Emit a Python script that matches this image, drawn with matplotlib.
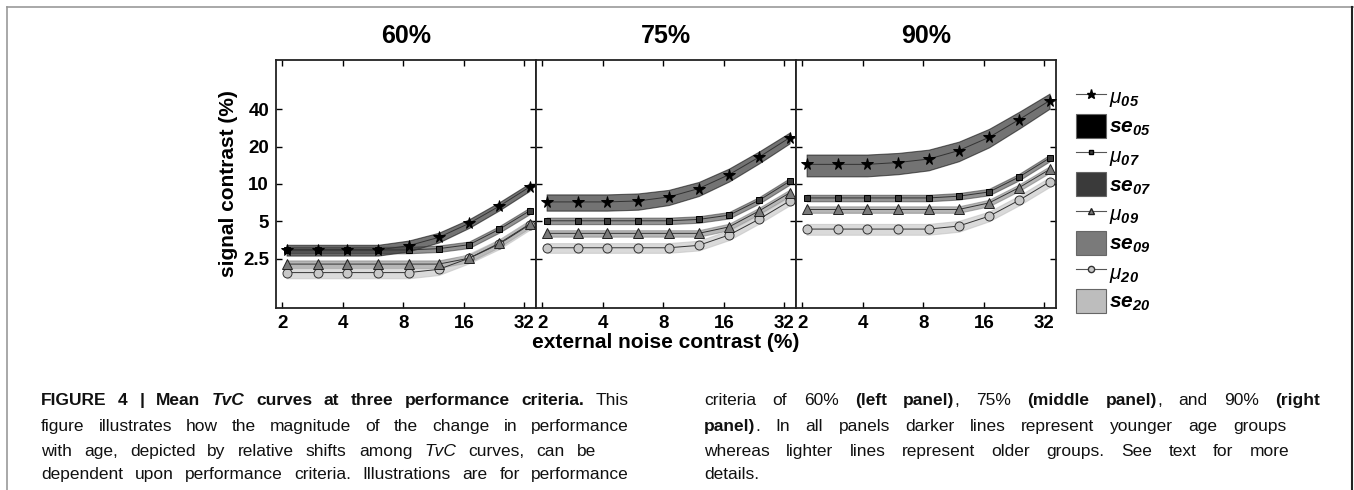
import numpy as np
import matplotlib
matplotlib.use("Agg")
import matplotlib.pyplot as plt
from matplotlib.lines import Line2D
from matplotlib.patches import Patch
from matplotlib import font_manager

W, H = 1354, 490

plt.rcParams["font.family"] = ["Liberation Sans", "DejaVu Sans"]
plt.rcParams["mathtext.fontset"] = "custom"
plt.rcParams["mathtext.rm"] = "Liberation Sans"
plt.rcParams["mathtext.it"] = "Liberation Sans:italic"
plt.rcParams["mathtext.bf"] = "Liberation Sans:bold:italic"

# external noise contrast (%)
noise = [2.1, 3.0, 4.2, 6.0, 8.5, 12.0, 17.0, 24.0, 34.0]
criteria = ["60%", "75%", "90%"]
groups = ["05", "07", "09", "20"]
x_ticks = [2, 4, 8, 16, 32]
y_ticks = [2.5, 5, 10, 20, 40]
y_ticklabels = ["2.5", "5", "10", "20", "40"]

# mean thresholds, 60% criterion
mu05_60 = [2.94, 2.94, 2.94, 2.94, 3.18, 3.71, 4.81, 6.62, 9.46]
mu07_60 = [2.94, 2.94, 2.94, 2.94, 2.94, 3.01, 3.24, 4.31, 6.07]
mu09_60 = [2.26, 2.26, 2.26, 2.26, 2.26, 2.26, 2.52, 3.33, 4.75]
mu20_60 = [1.93, 1.93, 1.93, 1.93, 1.93, 2.05, 2.52, 3.28, 4.69]
# 75% criterion
mu05_75 = [7.17, 7.17, 7.17, 7.30, 7.86, 9.19, 11.9, 16.5, 23.6]
mu07_75 = [5.05, 5.05, 5.05, 5.05, 5.05, 5.18, 5.61, 7.40, 10.5]
mu09_75 = [4.00, 4.00, 4.00, 4.00, 4.00, 4.00, 4.51, 6.07, 8.47]
mu20_75 = [3.06, 3.06, 3.06, 3.06, 3.06, 3.20, 3.88, 5.21, 7.30]
# 90% criterion
mu05_90 = [14.4, 14.4, 14.4, 14.9, 15.9, 18.6, 23.8, 33.1, 47.0]
mu07_90 = [7.72, 7.72, 7.72, 7.72, 7.72, 7.97, 8.63, 11.4, 16.2]
mu09_90 = [6.23, 6.23, 6.23, 6.23, 6.23, 6.23, 7.04, 9.36, 13.1]
mu20_90 = [4.33, 4.33, 4.33, 4.33, 4.33, 4.58, 5.50, 7.40, 10.4]

# standard error bands, as a fraction of the mean
se05_60 = [0.10, 0.10, 0.10, 0.10, 0.10, 0.09, 0.08, 0.075, 0.07]
se07_60 = [0.06, 0.06, 0.06, 0.06, 0.06, 0.06, 0.06, 0.06, 0.06]
se09_60 = [0.07, 0.07, 0.07, 0.07, 0.07, 0.07, 0.07, 0.07, 0.07]
se20_60 = [0.10, 0.10, 0.10, 0.10, 0.10, 0.10, 0.09, 0.09, 0.09]
se05_75 = [0.15, 0.15, 0.15, 0.15, 0.14, 0.13, 0.12, 0.11, 0.10]
se07_75 = [0.06, 0.06, 0.06, 0.06, 0.06, 0.06, 0.06, 0.06, 0.06]
se09_75 = [0.06, 0.06, 0.06, 0.06, 0.06, 0.06, 0.06, 0.06, 0.06]
se20_75 = [0.09, 0.09, 0.09, 0.09, 0.09, 0.09, 0.09, 0.08, 0.08]
se05_90 = [0.20, 0.20, 0.20, 0.195, 0.19, 0.18, 0.17, 0.155, 0.14]
se07_90 = [0.06, 0.06, 0.06, 0.06, 0.06, 0.06, 0.06, 0.06, 0.06]
se09_90 = [0.06, 0.06, 0.06, 0.06, 0.06, 0.06, 0.06, 0.06, 0.06]
se20_90 = [0.10, 0.10, 0.10, 0.10, 0.10, 0.10, 0.09, 0.09, 0.09]

means = [[mu05_60, mu07_60, mu09_60, mu20_60],
         [mu05_75, mu07_75, mu09_75, mu20_75],
         [mu05_90, mu07_90, mu09_90, mu20_90]]
ses = [[se05_60, se07_60, se09_60, se20_60],
       [se05_75, se07_75, se09_75, se20_75],
       [se05_90, se07_90, se09_90, se20_90]]

band_colors = ["#000000", "#3a3a3a", "#7a7a7a", "#bdbdbd"]
marker_style = [
    dict(marker="*", ms=8.5, mfc="black", mec="black"),
    dict(marker="s", ms=5, mfc="#3a3a3a", mec="black"),
    dict(marker="^", ms=6.5, mfc="#7a7a7a", mec="#222222"),
    dict(marker="o", ms=6.5, mfc="#c8c8c8", mec="#333333"),
]

# condensed face for the caption if there is one
installed = {f.name for f in font_manager.fontManager.ttflist}
caption_family = ["Liberation Sans Narrow"] if "Liberation Sans Narrow" in installed \
    else ["DejaVu Sans Condensed"] if "DejaVu Sans Condensed" in installed \
    else ["Liberation Sans"]
caption_size = 14 if caption_family[0] != "Liberation Sans" else 12.5

fig = plt.figure(figsize=(W / 100, H / 100), dpi=100)


def px_box(x0, y0, x1, y1):
    return [x0 / W, 1 - y1 / H, (x1 - x0) / W, (y1 - y0) / H]


panel_left = [276, 536, 796]
x = np.array(noise)
axes = []
for p, crit in enumerate(criteria):
    ax = fig.add_axes(px_box(panel_left[p], 60, panel_left[p] + 260, 308))
    axes.append(ax)
    for g in range(4):
        mu = np.array(means[p][g])
        se = np.array(ses[p][g])
        ax.fill_between(x, mu * (1 - se), mu * (1 + se), facecolor=band_colors[g],
                        edgecolor=band_colors[g], alpha=0.55, lw=0.8, zorder=1 + g)
    for g in reversed(range(4)):
        ax.plot(x, means[p][g], color="#333333", lw=0.7, mew=0.7,
                zorder=10 - g, **marker_style[g])
    ax.set_xscale("log", base=2)
    ax.set_yscale("log")
    ax.set_xlim(1.86, 36.6)
    ax.set_ylim(1, 100)
    ax.set_xticks(x_ticks)
    ax.set_xticklabels([str(t) for t in x_ticks], fontsize=13.5, fontweight="bold")
    ax.set_yticks(y_ticks)
    ax.minorticks_off()
    if p == 0:
        ax.set_yticklabels(y_ticklabels, fontsize=13.5, fontweight="bold")
        ax.set_ylabel("signal contrast (%)", fontsize=15, fontweight="bold", labelpad=4)
    else:
        ax.set_yticklabels([])
    ax.tick_params(direction="in", top=True, right=True, length=4, width=1, pad=5)
    for s in ax.spines.values():
        s.set_linewidth(1.3)
        s.set_color("#222222")
    ax.set_title(crit, fontsize=18, fontweight="bold", pad=12)

axes[1].set_xlabel("external noise contrast (%)", fontsize=15, fontweight="bold", labelpad=1)

# legend
handles, labels = [], []
for g in range(4):
    ms = marker_style[g]
    handles.append(Line2D([], [], color="#555555", lw=0.8, marker=ms["marker"],
                          ms=ms["ms"] - 2, mfc=ms["mfc"], mec=ms["mec"]))
    labels.append(r"$\mu_{\mathbf{%s}}$" % groups[g])
    handles.append(Patch(facecolor=band_colors[g], edgecolor="#666666", lw=0.8))
    labels.append(r"$\mathbf{se}_{\mathbf{%s}}$" % groups[g])
fig.legend(handles, labels, loc="upper left", bbox_to_anchor=(1066 / W, 1 - 74 / H),
           frameon=False, fontsize=15, handlelength=1.4, handleheight=1.4,
           handletextpad=0.15, labelspacing=0.22, borderpad=0)

# page frame
fig.add_artist(Line2D([7 / W, 7 / W], [1 - 7 / H, 0], transform=fig.transFigure,
                      color="#999999", lw=1.2))
fig.add_artist(Line2D([7 / W, 1], [1 - 7 / H, 1 - 7 / H], transform=fig.transFigure,
                      color="#999999", lw=1.2))
fig.add_artist(Line2D([1352 / W, 1352 / W], [1 - 7 / H, 0], transform=fig.transFigure,
                      color="#222222", lw=1.5))

# caption, justified text; * toggles bold, _ toggles italic
left_lines = [
    "*FIGURE 4 | Mean* *_TvC_* *curves at three performance criteria.* This",
    "figure illustrates how the magnitude of the change in performance",
    "with age, depicted by relative shifts among _TvC_ curves, can be",
    "dependent upon performance criteria. Illustrations are for performance",
]
left_ends = [629, 629, 596, 629]
right_lines = [
    "criteria of 60% *(left panel)*, 75% *(middle panel)*, and 90% *(right",
    "panel)*. In all panels darker lines represent younger age groups",
    "whereas lighter lines represent older groups. See text for more",
    "details.",
]
right_ends = [1320, 1286, 1289, None]
line_y = [400, 426, 451, 474]


def parse_words(line, bold=False, italic=False):
    words, segs, buf = [], [], ""
    for ch in line:
        if ch in "*_ ":
            if buf:
                segs.append((buf, bold, italic))
                buf = ""
            if ch == "*":
                bold = not bold
            elif ch == "_":
                italic = not italic
            elif segs:
                words.append(segs)
                segs = []
        else:
            buf += ch
    if buf:
        segs.append((buf, bold, italic))
    if segs:
        words.append(segs)
    return words, bold, italic


renderer = fig.canvas.get_renderer()


def draw_line(line, x0, x1, y, state):
    words, b, i = parse_words(line, *state)
    items, widths = [], []
    for w in words:
        parts, wsum = [], 0
        for txt, bb, it in w:
            t = fig.text(0, 1 - y / H, txt, fontsize=caption_size, va="center",
                         family=caption_family + ["DejaVu Sans"],
                         fontweight="bold" if bb else "normal",
                         fontstyle="italic" if it else "normal", color="#111111")
            wd = t.get_window_extent(renderer).width
            parts.append((t, wd))
            wsum += wd
        items.append(parts)
        widths.append(wsum)
    if x1 is not None and len(words) > 1:
        gap = (x1 - x0 - sum(widths)) / (len(words) - 1)
    else:
        gap = 4
    cx = x0
    for parts, wd in zip(items, widths):
        px = cx
        for t, pw in parts:
            t.set_x(px / W)
            px += pw
        cx += wd + gap
    return (b, i)


state = (False, False)
for ln, xe, yy in zip(left_lines, left_ends, line_y):
    state = draw_line(ln, 41, xe, yy, state)
state = (False, False)
for ln, xe, yy in zip(right_lines, right_ends, line_y):
    state = draw_line(ln, 704, xe, yy, state)

fig.savefig("out.png", dpi=100)
